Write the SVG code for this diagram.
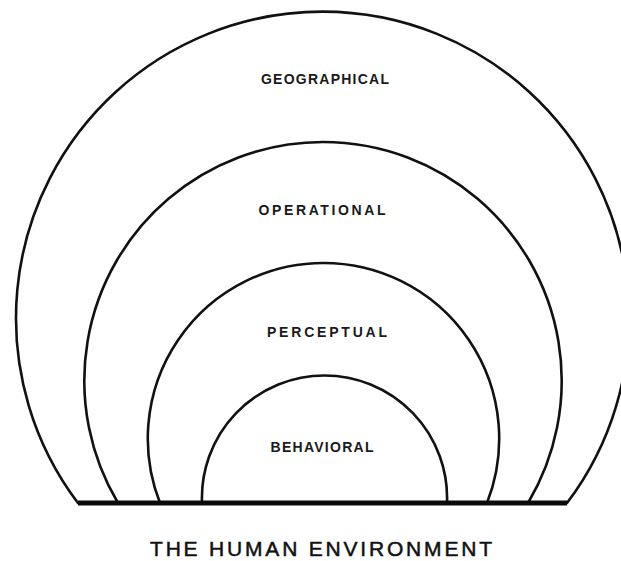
<svg xmlns="http://www.w3.org/2000/svg" width="621" height="561" viewBox="0 0 621 561">
  <style>
    .ring { fill: none; stroke: #111; stroke-width: 2.6; stroke-linecap: round; }
    .ground { stroke: #0a0a0a; stroke-width: 5; stroke-linecap: butt; }
    .lbl { font-family: "Liberation Sans", Arial, sans-serif; font-weight: bold; font-size: 14px; fill: #1a1a1a; text-anchor: middle; }
    .title { font-family: "Liberation Sans", Arial, sans-serif; font-size: 21px; stroke: #111; stroke-width: 0.5; fill: #111; text-anchor: middle; }
  </style>
  <rect width="621" height="561" fill="#ffffff"/>

  <!-- nested environments, each an arc standing on the common ground line -->
  <g id="geographical">
    <path class="ring" d="M78,503 A306.5,306.5 0 1 1 567,503"/>
    <text class="lbl" x="325" y="84" textLength="128" lengthAdjust="spacing">GEOGRAPHICAL</text>
  </g>
  <g id="operational">
    <path class="ring" d="M118,503 A238.7,238.7 0 1 1 528,503"/>
    <text class="lbl" x="322" y="215" textLength="127" lengthAdjust="spacing">OPERATIONAL</text>
  </g>
  <g id="perceptual">
    <path class="ring" d="M160,503 A175.7,175.7 0 1 1 487,503"/>
    <text class="lbl" x="327" y="337" textLength="120" lengthAdjust="spacing">PERCEPTUAL</text>
  </g>
  <g id="behavioral">
    <path class="ring" d="M202,503 A122.6,122.6 0 1 1 447,503"/>
    <text class="lbl" x="322" y="452" textLength="103" lengthAdjust="spacing">BEHAVIORAL</text>
  </g>

  <!-- ground line -->
  <g id="ground">
    <line class="ground" x1="78" y1="503" x2="567" y2="503"/>
  </g>

  <text class="title" x="321" y="556" textLength="342" lengthAdjust="spacing">THE HUMAN ENVIRONMENT</text>
</svg>
